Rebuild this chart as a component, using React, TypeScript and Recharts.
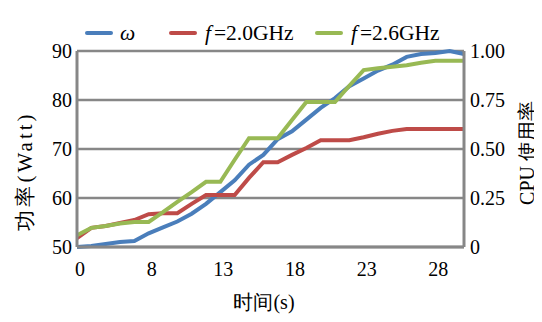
import React from 'react';
import { LineChart, Line, XAxis, YAxis, CartesianGrid, Label } from 'recharts';

// category labels (time, s) – only every 5th is shown
const timeLabels = ['0','2','4','6','7','8','9','10','11','12','13','14','15','16','17','18','19','20','21','22','23','24','25','26','27','28','29','30'];

// ω : CPU utilisation (right axis)
const omega = [0.0,0.005,0.015,0.025,0.03,0.07,0.1,0.13,0.17,0.22,0.28,0.34,0.42,0.47,0.55,0.59,0.65,0.71,0.76,0.82,0.86,0.9,0.93,0.97,0.985,0.99,1.0,0.985];

// power (Watt) at f=2.0GHz (left axis)
const f20 = [51.8,53.9,54.3,54.9,55.5,56.7,56.9,56.9,58.8,60.6,60.6,60.6,64.1,67.3,67.3,68.8,70.2,71.8,71.8,71.8,72.4,73.1,73.7,74.1,74.1,74.1,74.1,74.1];

// power (Watt) at f=2.6GHz (left axis)
const f26 = [52.4,53.9,54.3,54.8,55.1,55.1,57.1,59.2,61.2,63.3,63.3,67.8,72.2,72.2,72.2,75.9,79.6,79.6,79.6,82.9,86.1,86.5,86.8,87.1,87.6,88.0,88.0,88.0];

const leftTicks = [50, 60, 70, 80, 90];
const rightTicks = [0, 0.25, 0.5, 0.75, 1];

const series = [
  { key: 'omega', name: 'ω', color: '#4A7EBB', axis: 'cpu' },
  { key: 'f20', name: 'f=2.0GHz', color: '#BE4B48', axis: 'w' },
  { key: 'f26', name: 'f=2.6GHz', color: '#98B954', axis: 'w' },
];

const data = timeLabels.map((t, i) => ({ t, omega: omega[i], f20: f20[i], f26: f26[i] }));

const FONT = '"Liberation Serif", "Times New Roman", serif';
const GRID = '#878787';
const legendX = [77, 161, 307];

function renderName(name: string) {
  if (name.startsWith('f')) {
    return (
      <span>
        <i style={{ marginRight: 3 }}>f</i>
        {name.slice(1)}
      </span>
    );
  }
  return <i>{name}</i>;
}

export default function App() {
  return (
    <div style={{ position: 'relative', width: 534, height: 314, fontFamily: FONT }}>
      <div style={{ position: 'absolute', left: 0, top: 0, width: 534, height: 40 }}>
        {series.map((s, i) => (
          <div
            key={s.key}
            style={{
              position: 'absolute',
              left: legendX[i],
              top: 11,
              display: 'flex',
              alignItems: 'center',
              fontSize: 21.5,
              lineHeight: '28px',
              color: '#000',
              whiteSpace: 'nowrap',
            }}
          >
            <span style={{ display: 'inline-block', width: 28, height: 4, background: s.color, borderRadius: 2, marginRight: i === 0 ? 7 : 8 }} />
            {renderName(s.name)}
          </div>
        ))}
      </div>
      <LineChart width={534} height={314} data={data} margin={{ top: 43, right: 0, left: 0, bottom: 35 }}>
        <CartesianGrid yAxisId="w" horizontal vertical={false} stroke={GRID} strokeWidth={2.5} />
        <XAxis
          dataKey="t"
          interval={4}
          height={40}
          tickSize={0}
          tickMargin={15}
          axisLine={{ stroke: GRID, strokeWidth: 3 }}
          tick={{ fill: '#000', fontSize: 20, fontFamily: FONT, dx: 3 }}
        >
          <Label
            content={() => (
              <text x={256} y={301} textAnchor="middle" fontSize={20} fontFamily={FONT} fill="#000">
                时间(s)
              </text>
            )}
          />
        </XAxis>
        <YAxis
          yAxisId="w"
          orientation="left"
          width={69}
          domain={[50, 90]}
          ticks={leftTicks}
          interval={0}
          tickSize={0}
          tickMargin={5}
          axisLine={{ stroke: GRID, strokeWidth: 3 }}
          tick={{ fill: '#000', fontSize: 20, fontFamily: FONT }}
        >
          <Label
            content={() => (
              <text
                x={17}
                y={163}
                transform="rotate(-90 17 163)"
                textAnchor="middle"
                dominantBaseline="central"
                fontSize={21}
                letterSpacing={3}
                fontFamily={FONT}
                fill="#000"
              >
                功率(Watt)
              </text>
            )}
          />
        </YAxis>
        <YAxis
          yAxisId="cpu"
          orientation="right"
          width={78}
          domain={[0, 1]}
          ticks={rightTicks}
          interval={0}
          tickSize={0}
          tickMargin={6}
          tickFormatter={(v: number) => (v === 0 ? '0' : v.toFixed(2))}
          axisLine={{ stroke: GRID, strokeWidth: 3 }}
          tick={{ fill: '#000', fontSize: 20, fontFamily: FONT }}
        >
          <Label
            content={() => (
              <text
                x={519}
                y={145}
                transform="rotate(-90 519 145)"
                textAnchor="middle"
                dominantBaseline="central"
                fontSize={20}
                fontFamily={FONT}
                fill="#000"
              >
                CPU 使用率
              </text>
            )}
          />
        </YAxis>
        {series.map((s) => (
          <Line
            key={s.key}
            yAxisId={s.axis}
            dataKey={s.key}
            name={s.name}
            type="linear"
            stroke={s.color}
            strokeWidth={4}
            dot={false}
            activeDot={false}
            isAnimationActive={false}
          />
        ))}
      </LineChart>
    </div>
  );
}
